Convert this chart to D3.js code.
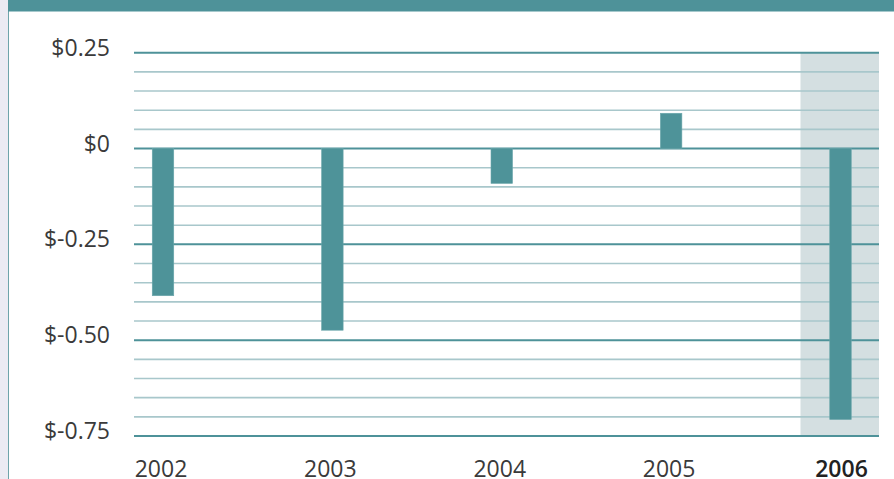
<!DOCTYPE html>
<html>
<head>
<meta charset="utf-8">
<script src="https://cdn.jsdelivr.net/npm/d3@7"></script>
<style>
  html, body { margin: 0; padding: 0; background: #ffffff; }
  svg { display: block; }
  text { font-family: "Open Sans", "Noto Sans", sans-serif; }
</style>
</head>
<body>
<svg id="chart" width="894" height="479"></svg>
<script>
// ---- data ----
const years = ["2002", "2003", "2004", "2005", "2006"];
const values = [-0.384, -0.474, -0.091, 0.092, -0.707];
const highlightYear = "2006";
const majorTicks = [0.25, 0, -0.25, -0.5, -0.75];
const majorLabels = ["$0.25", "$0", "$-0.25", "$-0.50", "$-0.75"];
const minorTicks = d3.range(-0.75, 0.2501, 0.05).map(v => +v.toFixed(2));

// ---- layout ----
const W = 894, H = 479;
const plotLeft = 134, plotRight = 879;
const svg = d3.select("#chart");

const y = d3.scaleLinear().domain([-0.75, 0.25]).range([436, 52.7]);
const x = d3.scalePoint().domain(years).range([163, 840.5]);
const barW = 21.5;

// page frame
svg.append("rect").attr("x", 0).attr("y", 0).attr("width", W).attr("height", H).attr("fill", "#ffffff");
svg.append("rect").attr("x", 0).attr("y", 0).attr("width", 8).attr("height", H).attr("fill", "#ecebf3");
svg.append("line").attr("x1", 8.5).attr("x2", 8.5).attr("y1", 0).attr("y2", H)
  .attr("stroke", "#6fa4aa").attr("stroke-width", 1);
svg.append("rect").attr("x", 8).attr("y", 0).attr("width", W - 8).attr("height", 11.5).attr("fill", "#4e9299");

// highlight band
svg.append("rect")
  .attr("x", x(highlightYear) - 40)
  .attr("y", y(0.25))
  .attr("width", plotRight - (x(highlightYear) - 40))
  .attr("height", y(-0.75) - y(0.25))
  .attr("fill", "#d4dfe1");

// minor gridlines
const isMajor = v => majorTicks.some(m => Math.abs(m - v) < 1e-6);
svg.append("g").selectAll("line")
  .data(minorTicks.filter(v => !isMajor(v)))
  .join("line")
  .attr("x1", plotLeft).attr("x2", plotRight)
  .attr("y1", d => y(d)).attr("y2", d => y(d))
  .attr("stroke", "#a8c7cb").attr("stroke-width", 1.6);

// major gridlines
svg.append("g").selectAll("line")
  .data(majorTicks)
  .join("line")
  .attr("x1", plotLeft).attr("x2", plotRight)
  .attr("y1", d => y(d)).attr("y2", d => y(d))
  .attr("stroke", "#4e9299").attr("stroke-width", 2);

// bars
svg.append("g").selectAll("rect")
  .data(years.map((yr, i) => ({ yr, v: values[i] })))
  .join("rect")
  .attr("x", d => x(d.yr) - barW / 2)
  .attr("width", barW)
  .attr("y", d => y(Math.max(0, d.v)))
  .attr("height", d => Math.abs(y(d.v) - y(0)))
  .attr("fill", "#4e9399")
  .attr("stroke", "#6aa6ab").attr("stroke-width", 0.6);

// y labels
svg.append("g").selectAll("text")
  .data(majorTicks.map((t, i) => ({ t, label: majorLabels[i] })))
  .join("text")
  .attr("x", 110)
  .attr("y", d => y(d.t) + 3)
  .attr("text-anchor", "end")
  .attr("font-size", 23)
  .attr("fill", "#3a3a3a")
  .text(d => d.label);

// x labels
svg.append("g").selectAll("text")
  .data(years)
  .join("text")
  .attr("x", d => x(d) + (d === highlightYear ? 1 : -2))
  .attr("y", 476.5)
  .attr("text-anchor", "middle")
  .attr("font-size", 23)
  .attr("font-weight", d => d === highlightYear ? 600 : 400)
  .attr("fill", d => d === highlightYear ? "#222222" : "#3a3a3a")
  .text(d => d);
</script>
</body>
</html>
